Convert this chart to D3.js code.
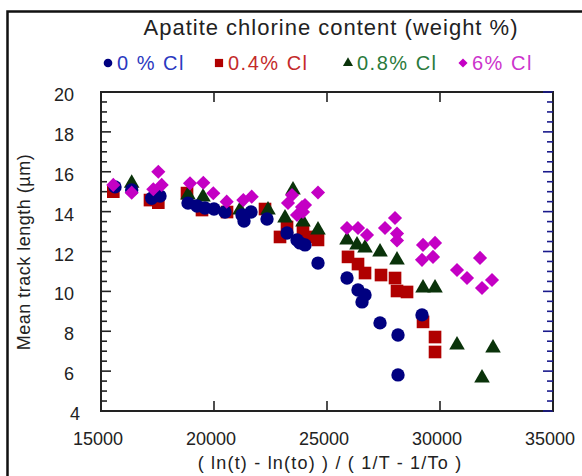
<!DOCTYPE html>
<html><head><meta charset="utf-8">
<script src="https://cdn.jsdelivr.net/npm/d3@7"></script>
<style>
body{margin:0;background:#fff;}
text{font-family:"Liberation Sans",Arial,Helvetica,sans-serif;}
</style></head>
<body><svg id="c" width="582" height="476"></svg>
<script>
// ---- data ----
const cl0X = [15620,16358,17243,17611,18850,19248,19602,20000,20487,21239,21638,21328,22346,23231,23673,23806,24027,24602,25886,26372,26682,26549,27346,28142,29204,28142];
const cl0Y = [15.24,15.09,14.67,14.78,14.43,14.28,14.18,14.13,13.98,13.83,13.98,13.53,13.63,12.93,12.58,12.43,12.33,11.42,10.67,10.07,9.82,9.47,8.42,7.81,8.82,5.81];
const cl04X = [15544,17168,17536,18806,19469,20576,22257,22921,23231,23938,24116,24602,25930,26372,26682,27390,28010,28098,28541,29249,29780,29780];
const cl04Y = [15.0,14.58,14.45,14.93,14.08,13.98,14.13,12.73,13.23,13.08,12.73,12.58,11.73,11.37,10.92,10.82,10.67,10.02,9.97,8.47,7.71,6.96];
const cl08X = [16358,18850,19514,21151,22390,23496,23142,23938,24602,25886,26328,26682,27346,28098,29249,29780,30753,31859,32346];
const cl08Y = [15.42,14.83,14.73,14.08,14.08,15.09,13.68,13.48,13.08,12.58,12.33,12.18,11.98,11.57,10.17,10.17,7.31,5.66,7.16];
const cl6X = [15544,16358,17536,17314,17686,18938,19527,19969,20562,21297,21669,23275,23452,23673,23894,23938,24027,24602,25886,26372,26771,27567,28010,28098,28098,29249,29780,29691,29204,30753,31196,31771,31859,32302];
const cl6Y = [15.34,14.95,16.0,15.12,15.34,15.42,15.45,14.92,14.5,14.58,14.75,14.43,14.83,13.83,14.23,13.98,14.33,14.96,13.18,13.18,12.83,13.18,13.68,12.9,12.55,12.33,12.43,11.73,11.58,11.07,10.67,11.68,10.17,10.57];
const seriesNames = ["0 % Cl","0.4% Cl","0.8% Cl","6% Cl"];
const xTicks = [15000,20000,25000,30000,35000];
const yTicks = [4,6,8,10,12,14,16,18,20];
const titleText = "Apatite chlorine content (weight %)";
const xTitle = "( ln(t) - ln(to) ) / ( 1/T - 1/To )";
const yTitle = "Mean track length (\u00b5m)";

// ---- layout ----
const svg = d3.select("#c");
const L=101, R=553, T=92, B=411;
const x = d3.scaleLinear().domain([15000,35000]).range([L,R]);
const y = d3.scaleLinear().domain([4,20]).range([B,T]);

// outer frame
svg.append("rect").attr("x",7.5).attr("y",11.5).attr("width",620).attr("height",520)
  .attr("fill","none").attr("stroke","#111").attr("stroke-width",2.5);

// title + legend
svg.append("text").attr("x",331).attr("y",35).attr("text-anchor","middle")
  .attr("font-size",22).attr("letter-spacing",1).attr("fill","#222").text(titleText);

const sym = {
  circle: d3.symbol().type(d3.symbolCircle),
  square: d3.symbol().type(d3.symbolSquare),
  tri: d3.symbol().type(d3.symbolTriangle),
  diamond: d3.symbol().type(d3.symbolSquare)
};
const styles = [
  {name:seriesNames[0], fill:"#000080", text:"#2a38c0", shape:"circle", size:140, rot:0},
  {name:seriesNames[1], fill:"#b00000", text:"#c42a2a", shape:"square", size:160, rot:0},
  {name:seriesNames[2], fill:"#0a330a", text:"#2a7a3c", shape:"tri", size:105, rot:0},
  {name:seriesNames[3], fill:"#c400c4", text:"#cc33cc", shape:"diamond", size:100, rot:45}
];

const legX = [108, 219, 348, 463];
const legY = 70;
styles.forEach((s,i)=>{
  svg.append("path").attr("d", sym[s.shape].size(s.size*0.42)())
    .attr("transform",`translate(${legX[i]},${legY-7}) rotate(${s.rot})`).attr("fill",s.fill);
  svg.append("text").attr("x",legX[i]+9).attr("y",legY).attr("font-size",20)
    .attr("letter-spacing",1.5).attr("fill",s.text).text(s.name);
});

// axes frame
const g = svg.append("g");
g.append("rect").attr("x",L).attr("y",T).attr("width",R-L).attr("height",B-T)
  .attr("fill","none").attr("stroke","#222").attr("stroke-width",2);

// y ticks
const yMinor = d3.range(4,20.01,0.5);
yMinor.forEach(v=>{
  const major = Math.abs(v/2-Math.round(v/2))<1e-6;
  const len = major?10:6;
  g.append("line").attr("x1",L).attr("x2",L+len).attr("y1",y(v)).attr("y2",y(v))
    .attr("stroke","#222").attr("stroke-width",1.6);
  g.append("line").attr("x1",R).attr("x2",R-len).attr("y1",y(v)).attr("y2",y(v))
    .attr("stroke","#1a1a8c").attr("stroke-width",1.6);
});
// x ticks
xTicks.forEach(v=>{
  g.append("line").attr("x1",x(v)).attr("x2",x(v)).attr("y1",B).attr("y2",B-10)
    .attr("stroke","#222").attr("stroke-width",1.6);
  g.append("line").attr("x1",x(v)).attr("x2",x(v)).attr("y1",T).attr("y2",T+10)
    .attr("stroke","#222").attr("stroke-width",1.6);
});

// tick labels
yTicks.forEach(v=>{
  svg.append("text").attr("x",v===4?80:74).attr("y",y(v)+9).attr("text-anchor","end")
    .attr("font-size",18).attr("fill","#222").text(v);
});
xTicks.forEach(v=>{
  svg.append("text").attr("x",x(v)-3).attr("y",445).attr("text-anchor","middle")
    .attr("font-size",18).attr("fill","#222").text(v);
});
svg.append("text").attr("x",330).attr("y",469).attr("text-anchor","middle")
  .attr("font-size",18).attr("letter-spacing",1.2).attr("fill","#222").text(xTitle);
svg.append("text").attr("transform","translate(30,252) rotate(-90)").attr("text-anchor","middle")
  .attr("font-size",18).attr("letter-spacing",0.5).attr("fill","#222").text(yTitle);

// data marks: draw order red, green, blue, magenta
const data = [
  {xs:cl04X, ys:cl04Y, s:styles[1]},
  {xs:cl08X, ys:cl08Y, s:styles[2]},
  {xs:cl0X, ys:cl0Y, s:styles[0]},
  {xs:cl6X, ys:cl6Y, s:styles[3]}
];
data.forEach(d=>{
  const pts = d.xs.map((v,i)=>[v,d.ys[i]]);
  svg.append("g").selectAll("path").data(pts).join("path")
    .attr("d", sym[d.s.shape].size(d.s.size)())
    .attr("transform",p=>`translate(${x(p[0])},${y(p[1])}) rotate(${d.s.rot})`)
    .attr("fill",d.s.fill);
});
</script></body></html>
